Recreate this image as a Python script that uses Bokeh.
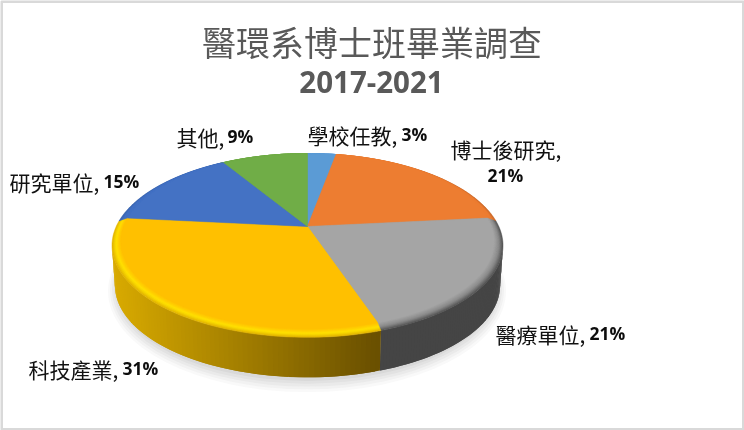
import numpy as np
from bokeh.core.properties import value
from bokeh.embed import file_html
from bokeh.models import ColumnDataSource, Range1d
from bokeh.plotting import figure
from bokeh.resources import INLINE

title_line1 = "醫環系博士班畢業調查"
title_line2 = "2017-2021"
categories = ["學校任教", "博士後研究", "醫療單位", "科技產業", "研究單位", "其他"]
shares = [3, 21, 21, 31, 15, 9]
colors = ["#5B9BD5", "#ED7D31", "#A5A5A5", "#FFC000", "#4472C4", "#70AD47"]

# label layout in page pixels: text x, text y, percent x, percent y
label_layout = [
    (307, 134, 401, 133),
    (450, 148, 487, 174),
    (495, 333, 589, 332),
    (28, 368, 122, 367),
    (9, 181, 103, 180),
    (176, 136, 227, 135),
]

W, H = 744, 430
CX, CY = 307.0, 226.0          # projected centre of the pie
A, B, K = 191.3, 88.0, 0.206   # tilt of the disc
DEPTH = 40.0
TOP_Y = CY - B / (1 + K)
MID_Y = 245.0
BASE_SCALE = 0.985


def project(theta):
    u, v = np.sin(theta), np.cos(theta)
    d = 1 + K * v
    return CX + A * u / d, CY - B * v / d


def mix(c1, c2, t):
    a = [int(c1[i:i + 2], 16) for i in (1, 3, 5)]
    b = [int(c2[i:i + 2], 16) for i in (1, 3, 5)]
    return "#%02x%02x%02x" % tuple(int(round(x + (y - x) * t)) for x, y in zip(a, b))


def gold(x):
    t = float(np.clip((x - 113) / 262, 0, 1))
    return mix("#d8aa00", "#6a5000", t)


fractions = np.array(shares, dtype=float) / sum(shares)
edges = np.concatenate([[0], np.cumsum(fractions)]) * 2 * np.pi

p = figure(width=W, height=H, x_range=Range1d(0, W), y_range=Range1d(H, 0),
           output_backend="svg", toolbar_location=None, min_border=0,
           background_fill_color="white", border_fill_color="white",
           outline_line_color=None,
           styles={"position": "fixed", "left": "0", "top": "0"})
p.axis.visible = False
p.grid.visible = False

# frame
p.quad(left=[1], right=[743], top=[1], bottom=[429], fill_color=None,
       line_color="#d9d9d9", line_width=3)

# soft shadow
for grow, alpha in [(9, 0.035), (7, 0.045), (5, 0.05), (3, 0.06), (1, 0.07)]:
    p.ellipse(x=[CX - 0.5], y=[MID_Y + DEPTH + 2 + grow * 0.4],
              width=[2 * (190 + grow)], height=[2 * (92 + grow)],
              fill_color="#606060", fill_alpha=alpha, line_color=None)

# side wall: strips overlap their neighbour so that no seams show
wx, wy, wc = [], [], []
for i, col in enumerate(colors):
    th = np.linspace(edges[i], edges[i + 1], 90)
    x, y = project(th)
    for j in range(len(th) - 1):
        k = min(j + 2, len(th) - 1)
        if max(y[j], y[k]) < MID_Y:
            continue
        y0, y1 = max(y[j], MID_Y), max(y[k], MID_Y)
        bx0 = CX + BASE_SCALE * (x[j] - CX)
        bx1 = CX + BASE_SCALE * (x[k] - CX)
        wx.append([x[j], x[k], bx1, bx0])
        wy.append([y0, y1, y1 + DEPTH, y0 + DEPTH])
        if col == "#FFC000":
            wc.append(gold(0.5 * (x[j] + x[j + 1])))
        elif col == "#A5A5A5":
            wc.append("#454545")
        else:
            wc.append(mix(col, "#000000", 0.58))
p.patches(xs=wx, ys=wy, fill_color=wc, line_color=None)

# bevel rim, then the flat top
rim_outer = {"#FFC000": "#e2b400", "#A5A5A5": "#555555", "#ED7D31": "#c8682a", "#4472C4": "#3d67b0"}
rim_mid = {"#FFC000": "#ffe200", "#A5A5A5": "#8a8a8a"}
LAYERS = 9
for layer in range(LAYERS):
    t = layer / (LAYERS - 1)
    s = 1 - 0.044 * t
    lx, ly, lc = [], [], []
    for i, col in enumerate(colors):
        th = np.linspace(edges[i], edges[i + 1], 80)
        x, y = project(th)
        ax = CX + s * (x - CX)
        ay = TOP_Y + s * (y - TOP_Y)
        lx.append(np.concatenate([[CX], ax]).tolist())
        ly.append(np.concatenate([[CY], ay]).tolist())
        outer = rim_outer.get(col, col)
        mid = rim_mid.get(col, col)
        c = mix(outer, mid, t / 0.45) if t < 0.45 else mix(mid, col, (t - 0.45) / 0.55)
        lc.append(c)
    p.patches(xs=lx, ys=ly, fill_color=lc, line_color=lc, line_width=0.5)

# titles
p.text(x=[371.5], y=[41], text=[title_line1], text_font=value("Noto Sans CJK TC"),
       text_font_size="34px", text_color="#595959", text_align="center", text_baseline="middle")
p.text(x=[371], y=[81], text=[title_line2], text_font=value("Open Sans"), text_font_style="bold",
       text_font_size="29.5px", text_color="#595959", text_align="center", text_baseline="middle")

# labels
src_cat = ColumnDataSource(dict(x=[l[0] for l in label_layout], y=[l[1] for l in label_layout],
                                t=[c + "," for c in categories]))
src_pct = ColumnDataSource(dict(x=[l[2] for l in label_layout], y=[l[3] for l in label_layout],
                                t=[f"{v}%" for v in shares]))
p.text(x="x", y="y", text="t", source=src_cat, text_font=value("Noto Sans CJK TC"),
       text_font_size="21px", text_color="#111111", text_align="left", text_baseline="middle")
p.text(x="x", y="y", text="t", source=src_pct, text_font=value("Open Sans"), text_font_style="bold",
       text_font_size="17.5px", text_color="#0d0d0d", text_align="left", text_baseline="middle")

open("out.html", "w").write(file_html(p, INLINE))
